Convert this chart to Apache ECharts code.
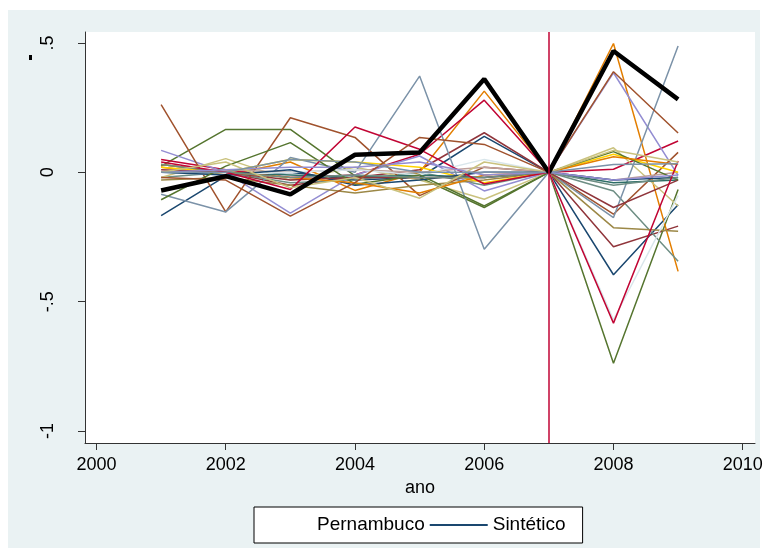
<!DOCTYPE html>
<html>
<head>
<meta charset="utf-8">
<script src="https://cdn.jsdelivr.net/npm/echarts@6/dist/echarts.min.js"></script>
<style>html,body{margin:0;padding:0;background:#fff;}#c{width:768px;height:558px;}</style>
</head>
<body>
<div id="c"></div>
<script>
const years = [2001, 2002, 2003, 2004, 2005, 2006, 2007, 2008, 2009];
const xTicks = [2000, 2002, 2004, 2006, 2008, 2010];
const yTicks = [-1, -0.5, 0, 0.5];
const yTickLabels = ['-1', '-.5', '0', '.5'];
const treatYear = 2007;

const pernambuco = [-0.07, -0.015, -0.085, 0.068, 0.077, 0.361, 0, 0.469, 0.282];

const plNavy1     = [-0.167, -0.015, 0.0, -0.03, -0.02, 0.139, 0, -0.396, -0.125];
const plMaroon1   = [0.03, 0.0, -0.05, -0.02, 0.01, 0.153, 0, -0.288, -0.208];
const plGreen1    = [0.024, 0.166, 0.166, -0.014, -0.02, -0.136, 0, -0.738, -0.066];
const plOrange1   = [0.02, -0.01, 0.04, -0.07, 0.0, 0.314, 0, 0.498, -0.383];
const plTeal1     = [-0.02, 0.0, -0.04, -0.03, 0.0, -0.05, 0, -0.072, -0.344];
const plCran1     = [0.05, 0.01, -0.02, -0.01, 0.07, 0.279, 0, 0.012, 0.121];
const plLav1      = [0.085, 0.0, -0.158, -0.01, 0.063, -0.072, 0, 0.385, -0.012];
const plKhaki1    = [-0.02, 0.053, -0.03, 0.02, -0.03, -0.104, 0, 0.095, -0.13];
const plSienna1   = [0.262, -0.153, 0.211, 0.135, -0.09, 0.02, 0, -0.162, 0.077];
const plEmid1     = [-0.085, -0.153, 0.057, 0.0, 0.372, -0.297, 0, -0.175, 0.488];
const plEmerald1  = [0.0, 0.0, -0.01, -0.02, -0.01, -0.02, 0, -0.04, -0.03];
const plBrown1    = [-0.03, -0.02, -0.05, -0.08, -0.05, -0.03, 0, -0.214, -0.228];
const plErose1    = [0.0, 0.01, 0.0, 0.01, 0.0, 0.02, 0, -0.03, 0.0];
const plGold1     = [0.02, 0.0, 0.05, 0.04, 0.02, -0.04, 0, 0.07, 0.0];
const plBgray1    = [0.0, -0.01, 0.0, 0.01, -0.01, 0.05, 0, -0.57, -0.09];
const plNavy2     = [0.0, -0.01, 0.01, -0.05, -0.03, 0.0, 0, -0.03, -0.02];
const plMaroon2   = [0.01, 0.0, -0.03, -0.02, -0.02, -0.02, 0, -0.136, -0.03];
const plGreen2    = [-0.106, 0.024, 0.115, -0.046, -0.01, -0.13, 0, 0.08, -0.03];
const plOrange2   = [0.03, 0.0, -0.02, -0.04, -0.08, -0.01, 0, 0.06, 0.03];
const plTeal2     = [0.03, 0.0, -0.02, -0.01, -0.02, -0.02, 0, -0.05, -0.02];
const plCran2     = [0.04, 0.0, -0.066, 0.175, 0.089, -0.045, 0, -0.583, 0.044];
const plLav2      = [0.0, 0.01, 0.02, 0.02, 0.04, -0.01, 0, -0.03, -0.01];
const plKhaki2    = [0.0, 0.04, -0.06, -0.02, -0.1, 0.04, 0, 0.085, 0.04];
const plSienna2   = [-0.02, -0.03, -0.169, -0.04, 0.135, 0.108, 0, 0.389, 0.152];
const plEmid2     = [0.0, 0.0, 0.05, 0.04, 0.0, 0.0, 0, 0.03, 0.033];

const placebos = [
  [plNavy1, '#1a476f'], [plMaroon1, '#90353b'], [plGreen1, '#55752f'], [plOrange1, '#e37e00'],
  [plTeal1, '#6e8e84'], [plCran1, '#c10534'], [plLav1, '#938dd2'], [plKhaki1, '#cac27e'],
  [plSienna1, '#a0522d'], [plEmid1, '#7b92a8'], [plEmerald1, '#2d6d66'], [plBrown1, '#9c8847'],
  [plErose1, '#bfa19c'], [plGold1, '#ffd200'], [plBgray1, '#d9e6eb'], [plNavy2, '#1a476f'],
  [plMaroon2, '#90353b'], [plGreen2, '#55752f'], [plOrange2, '#e37e00'], [plTeal2, '#6e8e84'],
  [plCran2, '#c10534'], [plLav2, '#938dd2'], [plKhaki2, '#cac27e'], [plSienna2, '#a0522d'],
  [plEmid2, '#7b92a8']
];

const FONT = 'Liberation Sans, Arial, sans-serif';
const pair = arr => years.map((y, i) => [y, arr[i]]);

const series = placebos.map(([arr, col], i) => ({
  name: 'placebo' + i, type: 'line', data: pair(arr), symbol: 'none',
  lineStyle: { color: col, width: 1.5 }, itemStyle: { color: col }, z: 2, silent: true
}));
series.push({
  name: 'Pernambuco', type: 'line', data: pair(pernambuco), symbol: 'none',
  lineStyle: { color: '#000', width: 4.5 }, itemStyle: { color: '#000' }, z: 4,
  markLine: { symbol: 'none', silent: true, label: { show: false },
    lineStyle: { color: '#c10534', width: 1.5, type: 'solid' },
    data: [{ xAxis: treatYear }] }
});
series.push({ name: 'Sintético', type: 'line', data: [], symbol: 'none',
  lineStyle: { color: '#1a476f', width: 1.5 }, itemStyle: { color: '#1a476f' } });

const chart = echarts.init(document.getElementById('c'), null, { renderer: 'canvas' });
chart.setOption({
  animation: false,
  backgroundColor: '#ffffff',
  graphic: [
    { type: 'rect', z: -10, shape: { x: 8, y: 10, width: 752, height: 538 }, style: { fill: '#eaf2f3' } },
    { type: 'rect', z: 10, shape: { x: 29, y: 55, width: 3, height: 5 }, style: { fill: '#000' } }
  ],
  grid: { left: 85, right: 13, top: 32, bottom: 115, show: true, backgroundColor: '#ffffff', borderWidth: 0 },
  xAxis: {
    type: 'value', min: 1999.822, max: 2010.19,
    name: 'ano', nameLocation: 'middle', nameGap: 36,
    nameTextStyle: { fontFamily: FONT, fontSize: 18, color: '#000' },
    axisLine: { show: true, onZero: false, lineStyle: { color: '#333', width: 1 } },
    axisTick: { show: true, length: 7, customValues: xTicks, lineStyle: { color: '#333' } },
    axisLabel: { customValues: xTicks, margin: 13, fontFamily: FONT, fontSize: 18, color: '#000',
      formatter: v => String(Math.round(v)) },
    splitLine: { show: false }
  },
  yAxis: {
    type: 'value', min: -1.0464, max: 0.5425,
    axisLine: { show: true, onZero: false, lineStyle: { color: '#333', width: 1 } },
    axisTick: { show: true, length: 7, customValues: yTicks, lineStyle: { color: '#333' } },
    axisLabel: { customValues: yTicks, rotate: 90, margin: 28, fontFamily: FONT, fontSize: 18, color: '#000',
      formatter: v => yTickLabels[yTicks.indexOf(Math.round(v * 10) / 10)] },
    splitLine: { show: false }
  },
  legend: {
    show: true, left: 254, top: 507, orient: 'horizontal', selectedMode: false,
    backgroundColor: '#fff', borderColor: '#000', borderWidth: 1,
    padding: [7, 17, 7, 0], itemWidth: 58, itemHeight: 2, itemGap: 5,
    textStyle: { fontFamily: FONT, fontSize: 19, lineHeight: 22, color: '#000' },
    data: [
      { name: 'Pernambuco', icon: 'rect', itemStyle: { color: 'rgba(0,0,0,0)', opacity: 0 } },
      { name: 'Sintético', icon: 'rect', itemStyle: { color: '#1a476f' } }
    ]
  },
  series: series
});
</script>
</body>
</html>
